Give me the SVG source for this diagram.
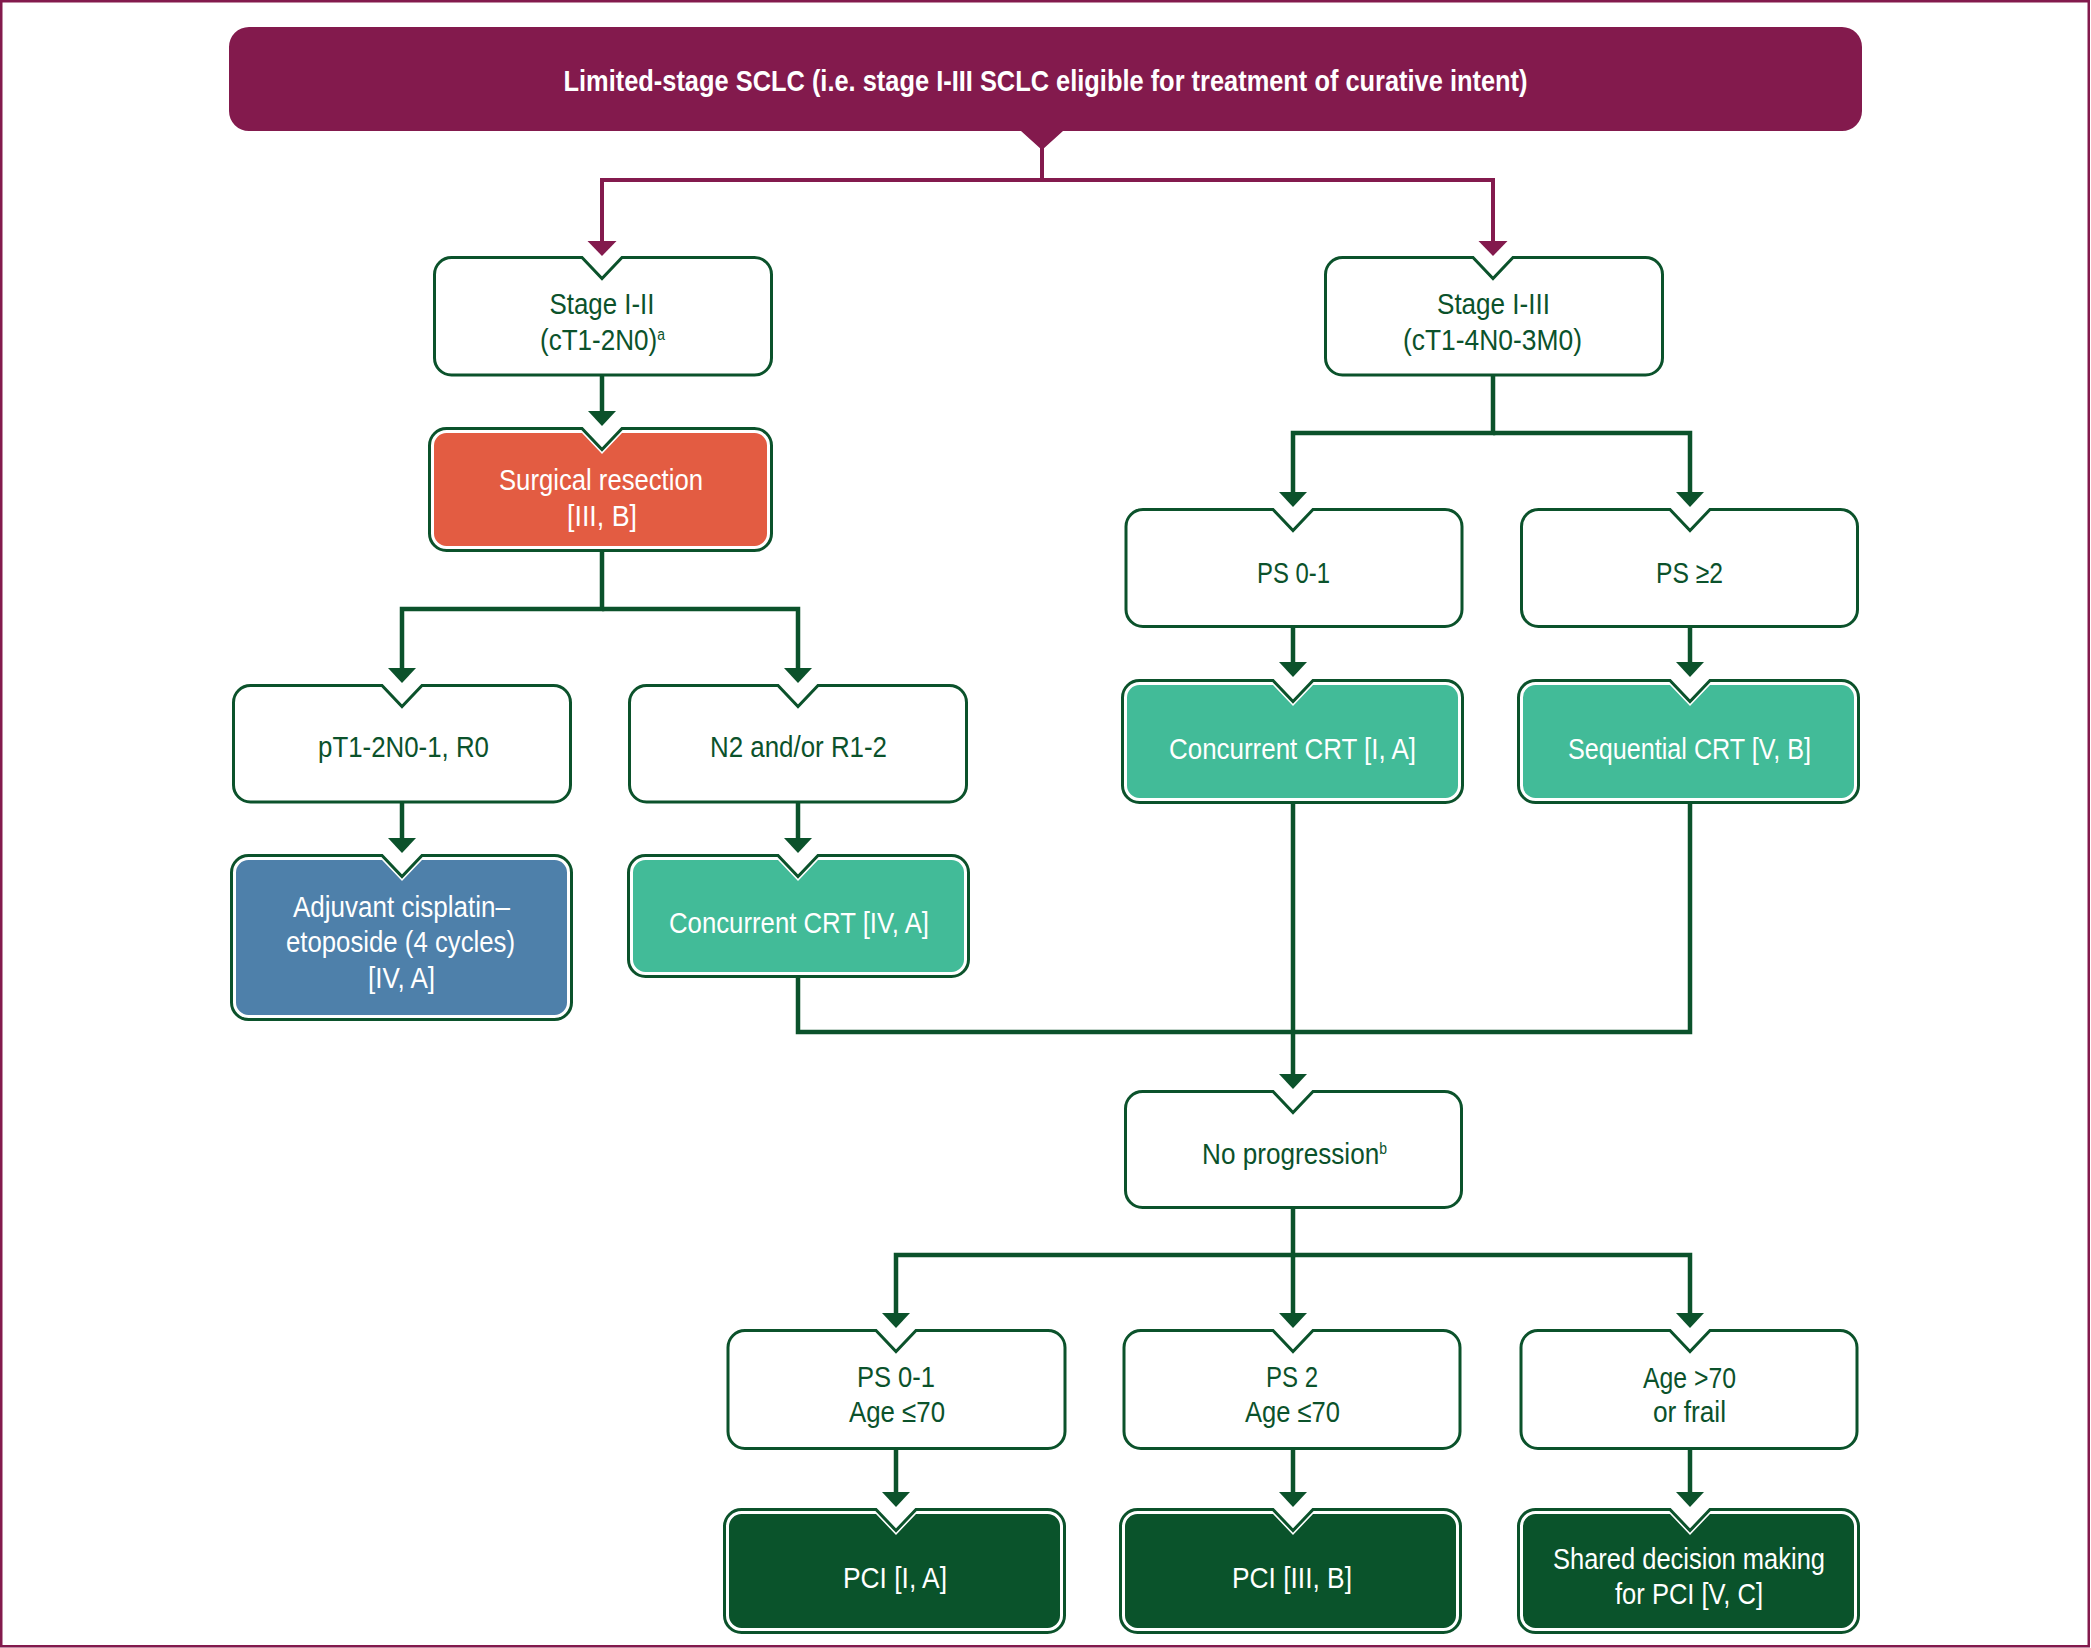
<svg xmlns="http://www.w3.org/2000/svg" width="2091" height="1648" viewBox="0 0 2091 1648">
<style>
.frame{fill:#ffffff;stroke:#831A4D;stroke-width:2.5}
.hdr{fill:#831A4D}
.ob{fill:#ffffff;stroke:#0B522B;stroke-width:3}
.fo{fill:#ffffff;stroke:#0B522B;stroke-width:3}
.orange{fill:#E35C42}.blue{fill:#4E80AA}.teal{fill:#42BB98}.dark{fill:#0A532B}
.con{fill:none;stroke:#0B522B;stroke-width:4.5;stroke-linejoin:miter}
.pcon{fill:none;stroke:#831A4D;stroke-width:4;stroke-linejoin:miter}
.t{font-family:"Liberation Sans",Arial,sans-serif;font-size:30px;fill:#0B522B;text-anchor:middle}
.w{fill:#ffffff}
.h{font-family:"Liberation Sans",Arial,sans-serif;font-size:30px;font-weight:bold;fill:#ffffff;text-anchor:middle}
.sup{font-size:16px}
</style>
<defs>
<marker id="ag" markerUnits="userSpaceOnUse" viewBox="0 -15 16 30" refX="0" refY="0" markerWidth="16" markerHeight="30" orient="auto"><path d="M0,-14 L15,0 L0,14 Z" fill="#0B522B"/></marker>
<marker id="ap" markerUnits="userSpaceOnUse" viewBox="0 -15 16 30" refX="0" refY="0" markerWidth="16" markerHeight="30" orient="auto"><path d="M0,-14.5 L15,0 L0,14.5 Z" fill="#831A4D"/></marker>
</defs>
<rect class="frame" x="1.25" y="1.25" width="2087.5" height="1645"/>

<g id="connectors">
<path class="pcon" d="M1042,148 V180 H602 V241" marker-end="url(#ap)"/>
<path class="pcon" d="M1042,180 H1493 V241" marker-end="url(#ap)"/>
<path class="con" d="M602,375 V411" marker-end="url(#ag)"/>
<path class="con" d="M602,550.5 V609 H402 V668" marker-end="url(#ag)"/>
<path class="con" d="M602,609 H798 V668" marker-end="url(#ag)"/>
<path class="con" d="M402,802 V838" marker-end="url(#ag)"/>
<path class="con" d="M798,802 V838" marker-end="url(#ag)"/>
<path class="con" d="M798,976.5 V1032 H1690 V802.5"/>
<path class="con" d="M1293,802.5 V1074" marker-end="url(#ag)"/>
<path class="con" d="M1493,375 V433 H1293 V492" marker-end="url(#ag)"/>
<path class="con" d="M1493,433 H1690 V492" marker-end="url(#ag)"/>
<path class="con" d="M1293,626.5 V662" marker-end="url(#ag)"/>
<path class="con" d="M1690,626.5 V662" marker-end="url(#ag)"/>
<path class="con" d="M1293,1207.5 V1255 H896 V1313" marker-end="url(#ag)"/>
<path class="con" d="M1293,1255 V1313" marker-end="url(#ag)"/>
<path class="con" d="M1293,1255 H1690 V1313" marker-end="url(#ag)"/>
<path class="con" d="M896,1448.5 V1492" marker-end="url(#ag)"/>
<path class="con" d="M1293,1448.5 V1492" marker-end="url(#ag)"/>
<path class="con" d="M1690,1448.5 V1492" marker-end="url(#ag)"/>
</g>

<g id="header">
<path class="hdr" d="M249,27 H1842 A20,20 0 0 1 1862,47 V111 A20,20 0 0 1 1842,131 H1063 L1042,150 L1021,131 H249 A20,20 0 0 1 229,111 V47 A20,20 0 0 1 249,27 Z"/>
<text class="h" x="1045.5" y="91" textLength="964" lengthAdjust="spacingAndGlyphs">Limited-stage SCLC (i.e. stage I-III SCLC eligible for treatment of curative intent)</text>
</g>

<g id="stage-i-ii">
<path class="ob" d="M451.5,257.5 H582 L602,278.5 L622,257.5 H754.5 A17,17 0 0 1 771.5,274.5 V358 A17,17 0 0 1 754.5,375 H451.5 A17,17 0 0 1 434.5,358 V274.5 A17,17 0 0 1 451.5,257.5 Z"/>
<text class="t" x="602" y="314" textLength="105" lengthAdjust="spacingAndGlyphs">Stage I-II</text>
<text class="t" x="602.5" y="350" textLength="125" lengthAdjust="spacingAndGlyphs">(cT1-2N0)<tspan class="sup" dy="-10">a</tspan></text>
</g>

<g id="stage-i-iii">
<path class="ob" d="M1342.5,257.5 H1473 L1493,278.5 L1513,257.5 H1645.5 A17,17 0 0 1 1662.5,274.5 V358 A17,17 0 0 1 1645.5,375 H1342.5 A17,17 0 0 1 1325.5,358 V274.5 A17,17 0 0 1 1342.5,257.5 Z"/>
<text class="t" x="1493.5" y="314" textLength="113" lengthAdjust="spacingAndGlyphs">Stage I-III</text>
<text class="t" x="1492.5" y="350" textLength="179" lengthAdjust="spacingAndGlyphs">(cT1-4N0-3M0)</text>
</g>

<g id="surgical-resection">
<path class="fo" d="M446.5,428.5 H582 L602,449.5 L622,428.5 H754.5 A17,17 0 0 1 771.5,445.5 V533.5 A17,17 0 0 1 754.5,550.5 H446.5 A17,17 0 0 1 429.5,533.5 V445.5 A17,17 0 0 1 446.5,428.5 Z"/>
<path class="orange" d="M446.5,433 H582 L602,454 L622,433 H754.5 A12.5,12.5 0 0 1 767,445.5 V533.5 A12.5,12.5 0 0 1 754.5,546 H446.5 A12.5,12.5 0 0 1 434,533.5 V445.5 A12.5,12.5 0 0 1 446.5,433 Z"/>
<text class="t w" x="601" y="490" textLength="204" lengthAdjust="spacingAndGlyphs">Surgical resection</text>
<text class="t w" x="602" y="526" textLength="70" lengthAdjust="spacingAndGlyphs">[III, B]</text>
</g>

<g id="pt1-2n0-1">
<path class="ob" d="M250.5,685.5 H382 L402,706.5 L422,685.5 H553.5 A17,17 0 0 1 570.5,702.5 V785 A17,17 0 0 1 553.5,802 H250.5 A17,17 0 0 1 233.5,785 V702.5 A17,17 0 0 1 250.5,685.5 Z"/>
<text class="t" x="403.5" y="757" textLength="171" lengthAdjust="spacingAndGlyphs">pT1-2N0-1, R0</text>
</g>

<g id="n2-r1-2">
<path class="ob" d="M646.5,685.5 H778 L798,706.5 L818,685.5 H949.5 A17,17 0 0 1 966.5,702.5 V785 A17,17 0 0 1 949.5,802 H646.5 A17,17 0 0 1 629.5,785 V702.5 A17,17 0 0 1 646.5,685.5 Z"/>
<text class="t" x="798.5" y="757" textLength="177" lengthAdjust="spacingAndGlyphs">N2 and/or R1-2</text>
</g>

<g id="adjuvant">
<path class="fo" d="M248.5,855.5 H382 L402,876.5 L422,855.5 H554.5 A17,17 0 0 1 571.5,872.5 V1002.5 A17,17 0 0 1 554.5,1019.5 H248.5 A17,17 0 0 1 231.5,1002.5 V872.5 A17,17 0 0 1 248.5,855.5 Z"/>
<path class="blue" d="M248.5,860 H382 L402,881 L422,860 H554.5 A12.5,12.5 0 0 1 567,872.5 V1002.5 A12.5,12.5 0 0 1 554.5,1015 H248.5 A12.5,12.5 0 0 1 236,1002.5 V872.5 A12.5,12.5 0 0 1 248.5,860 Z"/>
<text class="t w" x="401.5" y="917" textLength="217" lengthAdjust="spacingAndGlyphs">Adjuvant cisplatin–</text>
<text class="t w" x="400.5" y="952" textLength="229" lengthAdjust="spacingAndGlyphs">etoposide (4 cycles)</text>
<text class="t w" x="401.5" y="988" textLength="67" lengthAdjust="spacingAndGlyphs">[IV, A]</text>
</g>

<g id="concurrent-crt-iv-a">
<path class="fo" d="M645.5,855.5 H778 L798,876.5 L818,855.5 H951.5 A17,17 0 0 1 968.5,872.5 V959.5 A17,17 0 0 1 951.5,976.5 H645.5 A17,17 0 0 1 628.5,959.5 V872.5 A17,17 0 0 1 645.5,855.5 Z"/>
<path class="teal" d="M645.5,860 H778 L798,881 L818,860 H951.5 A12.5,12.5 0 0 1 964,872.5 V959.5 A12.5,12.5 0 0 1 951.5,972 H645.5 A12.5,12.5 0 0 1 633,959.5 V872.5 A12.5,12.5 0 0 1 645.5,860 Z"/>
<text class="t w" x="799" y="933" textLength="260" lengthAdjust="spacingAndGlyphs">Concurrent CRT [IV, A]</text>
</g>

<g id="ps-0-1">
<path class="ob" d="M1143,509.5 H1273 L1293,530.5 L1313,509.5 H1445 A17,17 0 0 1 1462,526.5 V609.5 A17,17 0 0 1 1445,626.5 H1143 A17,17 0 0 1 1126,609.5 V526.5 A17,17 0 0 1 1143,509.5 Z"/>
<text class="t" x="1293.5" y="583" textLength="73" lengthAdjust="spacingAndGlyphs">PS 0-1</text>
</g>

<g id="ps-2-plus">
<path class="ob" d="M1538.5,509.5 H1670 L1690,530.5 L1710,509.5 H1840.5 A17,17 0 0 1 1857.5,526.5 V609.5 A17,17 0 0 1 1840.5,626.5 H1538.5 A17,17 0 0 1 1521.5,609.5 V526.5 A17,17 0 0 1 1538.5,509.5 Z"/>
<text class="t" x="1689.5" y="583" textLength="67" lengthAdjust="spacingAndGlyphs">PS ≥2</text>
</g>

<g id="concurrent-crt-i-a">
<path class="fo" d="M1139.5,680.5 H1273 L1293,701.5 L1313,680.5 H1445.5 A17,17 0 0 1 1462.5,697.5 V785.5 A17,17 0 0 1 1445.5,802.5 H1139.5 A17,17 0 0 1 1122.5,785.5 V697.5 A17,17 0 0 1 1139.5,680.5 Z"/>
<path class="teal" d="M1139.5,685 H1273 L1293,706 L1313,685 H1445.5 A12.5,12.5 0 0 1 1458,697.5 V785.5 A12.5,12.5 0 0 1 1445.5,798 H1139.5 A12.5,12.5 0 0 1 1127,785.5 V697.5 A12.5,12.5 0 0 1 1139.5,685 Z"/>
<text class="t w" x="1292.5" y="759" textLength="247" lengthAdjust="spacingAndGlyphs">Concurrent CRT [I, A]</text>
</g>

<g id="sequential-crt">
<path class="fo" d="M1535.5,680.5 H1670 L1690,701.5 L1710,680.5 H1841.5 A17,17 0 0 1 1858.5,697.5 V785.5 A17,17 0 0 1 1841.5,802.5 H1535.5 A17,17 0 0 1 1518.5,785.5 V697.5 A17,17 0 0 1 1535.5,680.5 Z"/>
<path class="teal" d="M1535.5,685 H1670 L1690,706 L1710,685 H1841.5 A12.5,12.5 0 0 1 1854,697.5 V785.5 A12.5,12.5 0 0 1 1841.5,798 H1535.5 A12.5,12.5 0 0 1 1523,785.5 V697.5 A12.5,12.5 0 0 1 1535.5,685 Z"/>
<text class="t w" x="1689.5" y="759" textLength="243" lengthAdjust="spacingAndGlyphs">Sequential CRT [V, B]</text>
</g>

<g id="no-progression">
<path class="ob" d="M1142.5,1091.5 H1273 L1293,1112.5 L1313,1091.5 H1444.5 A17,17 0 0 1 1461.5,1108.5 V1190.5 A17,17 0 0 1 1444.5,1207.5 H1142.5 A17,17 0 0 1 1125.5,1190.5 V1108.5 A17,17 0 0 1 1142.5,1091.5 Z"/>
<text class="t" x="1294.5" y="1164" textLength="185" lengthAdjust="spacingAndGlyphs">No progression<tspan class="sup" dy="-10">b</tspan></text>
</g>

<g id="ps-0-1-age">
<path class="ob" d="M745,1330.5 H876 L896,1351.5 L916,1330.5 H1048 A17,17 0 0 1 1065,1347.5 V1431.5 A17,17 0 0 1 1048,1448.5 H745 A17,17 0 0 1 728,1431.5 V1347.5 A17,17 0 0 1 745,1330.5 Z"/>
<text class="t" x="896" y="1387" textLength="78" lengthAdjust="spacingAndGlyphs">PS 0-1</text>
<text class="t" x="897" y="1422" textLength="96" lengthAdjust="spacingAndGlyphs">Age ≤70</text>
</g>

<g id="ps-2-age">
<path class="ob" d="M1141,1330.5 H1273 L1293,1351.5 L1313,1330.5 H1443 A17,17 0 0 1 1460,1347.5 V1431.5 A17,17 0 0 1 1443,1448.5 H1141 A17,17 0 0 1 1124,1431.5 V1347.5 A17,17 0 0 1 1141,1330.5 Z"/>
<text class="t" x="1292" y="1387" textLength="52" lengthAdjust="spacingAndGlyphs">PS 2</text>
<text class="t" x="1292.5" y="1422" textLength="95" lengthAdjust="spacingAndGlyphs">Age ≤70</text>
</g>

<g id="age-70-frail">
<path class="ob" d="M1538,1330.5 H1670 L1690,1351.5 L1710,1330.5 H1840 A17,17 0 0 1 1857,1347.5 V1431.5 A17,17 0 0 1 1840,1448.5 H1538 A17,17 0 0 1 1521,1431.5 V1347.5 A17,17 0 0 1 1538,1330.5 Z"/>
<text class="t" x="1689.5" y="1388" textLength="93" lengthAdjust="spacingAndGlyphs">Age &gt;70</text>
<text class="t" x="1689.5" y="1422" textLength="73" lengthAdjust="spacingAndGlyphs">or frail</text>
</g>

<g id="pci-i-a">
<path class="fo" d="M741.5,1509.5 H876 L896,1530.5 L916,1509.5 H1047.5 A17,17 0 0 1 1064.5,1526.5 V1615.5 A17,17 0 0 1 1047.5,1632.5 H741.5 A17,17 0 0 1 724.5,1615.5 V1526.5 A17,17 0 0 1 741.5,1509.5 Z"/>
<path class="dark" d="M741.5,1514 H876 L896,1535 L916,1514 H1047.5 A12.5,12.5 0 0 1 1060,1526.5 V1615.5 A12.5,12.5 0 0 1 1047.5,1628 H741.5 A12.5,12.5 0 0 1 729,1615.5 V1526.5 A12.5,12.5 0 0 1 741.5,1514 Z"/>
<text class="t w" x="895" y="1588" textLength="104" lengthAdjust="spacingAndGlyphs">PCI [I, A]</text>
</g>

<g id="pci-iii-b">
<path class="fo" d="M1137.5,1509.5 H1273 L1293,1530.5 L1313,1509.5 H1443.5 A17,17 0 0 1 1460.5,1526.5 V1615.5 A17,17 0 0 1 1443.5,1632.5 H1137.5 A17,17 0 0 1 1120.5,1615.5 V1526.5 A17,17 0 0 1 1137.5,1509.5 Z"/>
<path class="dark" d="M1137.5,1514 H1273 L1293,1535 L1313,1514 H1443.5 A12.5,12.5 0 0 1 1456,1526.5 V1615.5 A12.5,12.5 0 0 1 1443.5,1628 H1137.5 A12.5,12.5 0 0 1 1125,1615.5 V1526.5 A12.5,12.5 0 0 1 1137.5,1514 Z"/>
<text class="t w" x="1292" y="1588" textLength="120" lengthAdjust="spacingAndGlyphs">PCI [III, B]</text>
</g>

<g id="shared-decision">
<path class="fo" d="M1535.5,1509.5 H1670 L1690,1530.5 L1710,1509.5 H1841.5 A17,17 0 0 1 1858.5,1526.5 V1615.5 A17,17 0 0 1 1841.5,1632.5 H1535.5 A17,17 0 0 1 1518.5,1615.5 V1526.5 A17,17 0 0 1 1535.5,1509.5 Z"/>
<path class="dark" d="M1535.5,1514 H1670 L1690,1535 L1710,1514 H1841.5 A12.5,12.5 0 0 1 1854,1526.5 V1615.5 A12.5,12.5 0 0 1 1841.5,1628 H1535.5 A12.5,12.5 0 0 1 1523,1615.5 V1526.5 A12.5,12.5 0 0 1 1535.5,1514 Z"/>
<text class="t w" x="1689" y="1569" textLength="272" lengthAdjust="spacingAndGlyphs">Shared decision making</text>
<text class="t w" x="1689" y="1604" textLength="148" lengthAdjust="spacingAndGlyphs">for PCI [V, C]</text>
</g>
</svg>
